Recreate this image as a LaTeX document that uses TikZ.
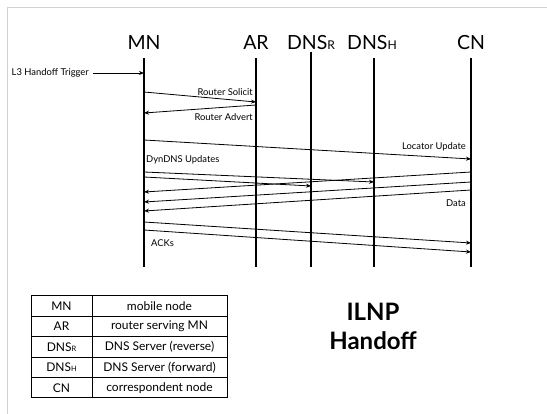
\documentclass[tikz,border=0pt]{standalone}
\usepackage{fontspec}
\setmainfont{Lato}
\usetikzlibrary{arrows.meta}
\makeatletter
\newcommand\lowcap[1]{{\fontsize{\dimexpr0.62\dimexpr\f@size pt\relax\relax}{1em}\selectfont #1}}
\makeatother
\begin{document}
\begin{tikzpicture}[x=1pt,y=-1pt,
  head/.style={font=\fontsize{19.5}{20}\selectfont, inner sep=0pt, anchor=base},
  life/.style={line width=1.2pt},
  msg/.style={line width=0.8pt,-{Stealth[length=5pt,width=4pt]}},
  lbl/.style={font=\fontsize{9.4}{10}\selectfont, inner sep=0pt},
  cell/.style={font=\fontsize{12}{13}\selectfont, inner sep=0pt},
  title/.style={font=\fontsize{24}{26}\selectfont\bfseries, inner sep=0pt}]
\useasboundingbox (0,0) rectangle (547,414);
\draw[gray!35, line width=1pt] (7,414) -- (7,8) -- (547,8);

% headings
\node[head] (hMN) at (144,50) {MN};
\node[head] (hAR) at (256,50) {AR};
\node[head] (hDR) at (311,50) {DNS\lowcap{R}};
\node[head] (hDH) at (372,50) {DNS\lowcap{H}};
\node[head] (hCN) at (471,50) {CN};

% lifelines
\coordinate (mnT) at (144,58);  \coordinate (mnB) at (144,267);
\coordinate (arT) at (256,58);  \coordinate (arB) at (256,267);
\coordinate (drT) at (311,52);  \coordinate (drB) at (311,267);
\coordinate (dhT) at (374,58);  \coordinate (dhB) at (374,267);
\coordinate (cnT) at (471,58);  \coordinate (cnB) at (471,267);
\draw[life] (mnT) -- (mnB);
\draw[life] (arT) -- (arB);
\draw[life] (drT) -- (drB);
\draw[life] (dhT) -- (dhB);
\draw[life] (cnT) -- (cnB);

% L3 trigger
\coordinate (trigS) at (93,73);
\coordinate (trigE) at (144,73);
\node[lbl, anchor=east] (tTrig) at (89,73) {L3 Handoff Trigger};
\draw[msg] (trigS) -- (trigE);

% router solicit / advert
\coordinate (rs1) at (144,92);  \coordinate (rs2) at (256,102);
\draw[msg] (rs1) -- (rs2);
\node[lbl, anchor=east] (tRS) at (253,92) {Router Solicit};
\coordinate (ra1) at (256,105); \coordinate (ra2) at (144,113);
\draw[msg] (ra1) -- (ra2);
\node[lbl, anchor=east] (tRA) at (253,117) {Router Advert};

% locator update
\coordinate (lu1) at (144,140); \coordinate (lu2) at (471,159);
\draw[msg] (lu1) -- (lu2);
\node[lbl, anchor=east] (tLU) at (466,147) {Locator Update};

% DynDNS
\node[lbl, anchor=west] (tDyn) at (146,160) {DynDNS Updates};
\coordinate (d11) at (144,172); \coordinate (d12) at (374,182);
\draw[msg] (d11) -- (d12);
\coordinate (d21) at (144,177); \coordinate (d22) at (311,186);
\draw[msg] (d21) -- (d22);

% data
\coordinate (da11) at (471,172); \coordinate (da12) at (144,192);
\coordinate (da21) at (471,182); \coordinate (da22) at (144,202);
\coordinate (da31) at (471,190); \coordinate (da32) at (144,211);
\draw[msg] (da11) -- (da12);
\draw[msg] (da21) -- (da22);
\draw[msg] (da31) -- (da32);
\node[lbl, anchor=east] (tData) at (466,203) {Data};

% ACKs
\coordinate (ak11) at (144,222); \coordinate (ak12) at (471,243);
\coordinate (ak21) at (144,230); \coordinate (ak22) at (471,252);
\draw[msg] (ak11) -- (ak12);
\draw[msg] (ak21) -- (ak22);
\node[lbl, anchor=west] (tAck) at (151,243) {ACKs};

% table
\draw[line width=1pt] (31,296) rectangle (227,398);
\draw[line width=1pt] (92,296) -- (92,398);
\foreach \yy in {316.4,336.8,357.2,377.6} \draw[line width=0.8pt] (31,\yy) -- (227,\yy);
\node[cell] (k1) at (61.5,306.2) {MN};
\node[cell] (k2) at (61.5,326.6) {AR};
\node[cell] (k3) at (61.5,347.0) {DNS\lowcap{R}};
\node[cell] (k4) at (61.5,367.4) {DNS\lowcap{H}};
\node[cell] (k5) at (61.5,387.8) {CN};
\node[cell] (v1) at (159.5,306.2) {mobile node};
\node[cell] (v2) at (159.5,326.6) {router serving MN};
\node[cell] (v3) at (159.5,347.0) {DNS Server (reverse)};
\node[cell] (v4) at (159.5,367.4) {DNS Server (forward)};
\node[cell] (v5) at (159.5,387.8) {correspondent node};

% title
\node[title] (ti1) at (373,312) {ILNP};
\node[title] (ti2) at (373,341) {Handoff};
\end{tikzpicture}
\end{document}
